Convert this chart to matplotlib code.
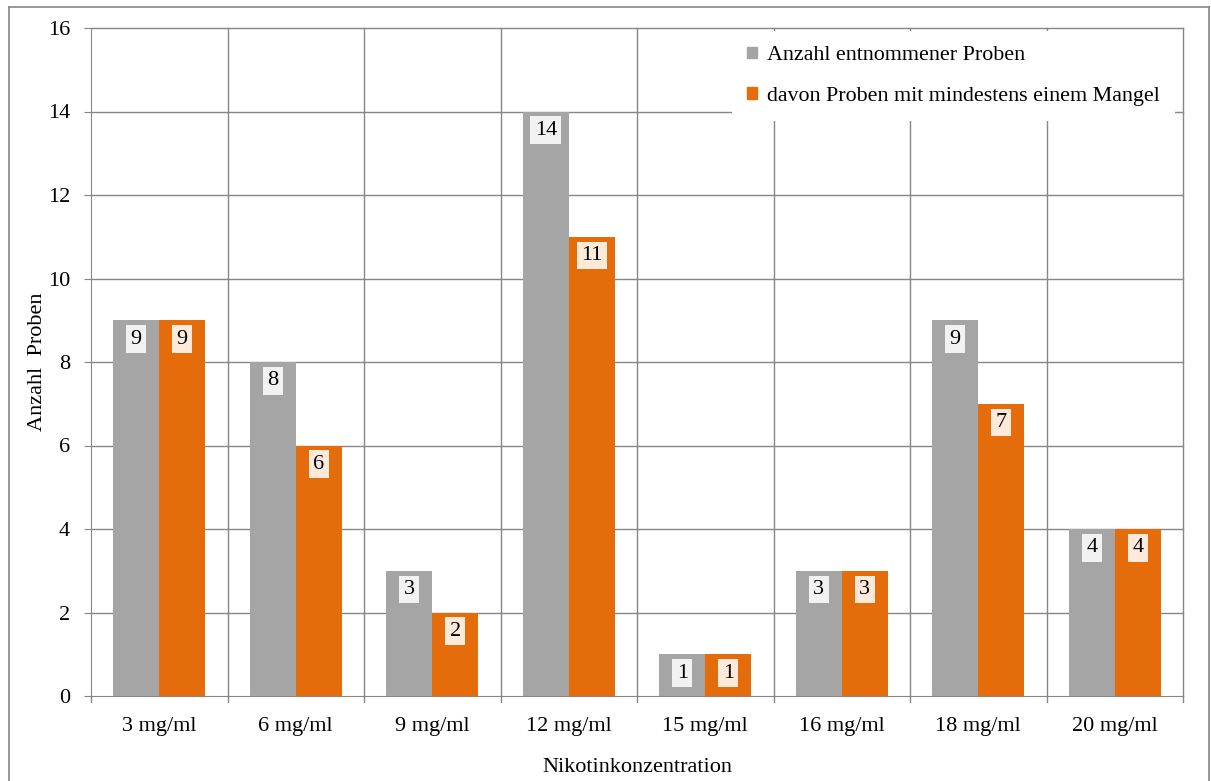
#!/usr/bin/env python3

import matplotlib
matplotlib.use("Agg")
import matplotlib.pyplot as plt
import numpy as np
from matplotlib.patches import Patch
from matplotlib.lines import Line2D

plt.rcParams["font.family"] = ["Liberation Serif", "DejaVu Serif"]

categories = ["3 mg/ml", "6 mg/ml", "9 mg/ml", "12 mg/ml", "15 mg/ml", "16 mg/ml", "18 mg/ml", "20 mg/ml"]
taken = [9, 8, 3, 14, 1, 3, 9, 4]
defective = [9, 6, 2, 11, 1, 3, 7, 4]
series_names = ["Anzahl entnommener Proben", "davon Proben mit mindestens einem Mangel"]

GRAY = "#a5a5a5"
ORANGE = "#e46c0a"
GRID = "#868686"
FS = 16

fig = plt.figure(figsize=(12.11, 7.81), dpi=100)
ax = fig.add_axes([91 / 1211, 85 / 781, (1183 - 91) / 1211, (696 - 28) / 781])

x = np.arange(len(categories))
w = 0.337
b1 = ax.bar(x - w / 2, taken, w, color=GRAY, zorder=3)
b2 = ax.bar(x + w / 2, defective, w, color=ORANGE, zorder=3)

# value labels in small tinted boxes just below each bar top
for bars, vals, face in ((b1, taken, "#f2f2f2"), (b2, defective, "#fdeada")):
    for rect, v in zip(bars, vals):
        ax.annotate(str(v), (rect.get_x() + rect.get_width() / 2, v),
                    xytext=(0, -13.5), textcoords="offset points",
                    ha="center", va="center", fontsize=FS, zorder=5,
                    bbox=dict(boxstyle="square,pad=0.2", fc=face, ec="none"))

ax.set_xlim(-0.5, len(categories) - 0.5)
ax.set_ylim(0, 16)
ax.set_yticks(range(0, 17, 2))
ax.set_xticks(x)
ax.set_xticklabels(categories)
ax.tick_params(axis="x", length=0, labelsize=FS, pad=15)
ax.tick_params(axis="y", length=5, color=GRID, labelsize=FS, pad=10)

# grid: horizontal at y ticks, vertical at category boundaries
for yv in range(2, 17, 2):
    ax.axhline(yv, color=GRID, lw=1, zorder=1, clip_on=False)
for xb in np.arange(-0.5, len(categories), 1.0)[1:]:
    ax.axvline(xb, color=GRID, lw=1, zorder=1, clip_on=False)
# bottom boundary ticks pointing down
for xb in np.arange(-0.5, len(categories), 1.0):
    ax.add_line(Line2D([xb, xb], [0, -0.15], color=GRID, lw=1, clip_on=False))

for s in ("top", "right"):
    ax.spines[s].set_visible(False)
for s in ("left", "bottom"):
    ax.spines[s].set_color(GRID)

ax.set_xlabel("Nikotinkonzentration", fontsize=FS, labelpad=16)
ax.set_ylabel("Anzahl  Proben", fontsize=FS, labelpad=1)

handles = [Patch(color=GRAY), Patch(color=ORANGE)]
leg = ax.legend(handles, series_names, loc="upper right", bbox_to_anchor=(0.9927, 0.9955),
                fontsize=15.8, frameon=True, fancybox=False, edgecolor="none",
                facecolor="white", framealpha=1, handlelength=0.45, handleheight=0.45,
                handletextpad=0.45, labelspacing=0.98, borderpad=0.7, borderaxespad=0)
leg.set_zorder(4)

# outer chart border
fig.add_artist(Line2D([9 / 1211, 9 / 1211], [0, 1 - 7 / 781], color=GRID, lw=1.2))
fig.add_artist(Line2D([9 / 1211, 1209 / 1211], [1 - 7 / 781, 1 - 7 / 781], color=GRID, lw=1.2))
fig.add_artist(Line2D([1209 / 1211, 1209 / 1211], [0, 1 - 7 / 781], color=GRID, lw=1.2))

fig.savefig("out.png", dpi=100)
